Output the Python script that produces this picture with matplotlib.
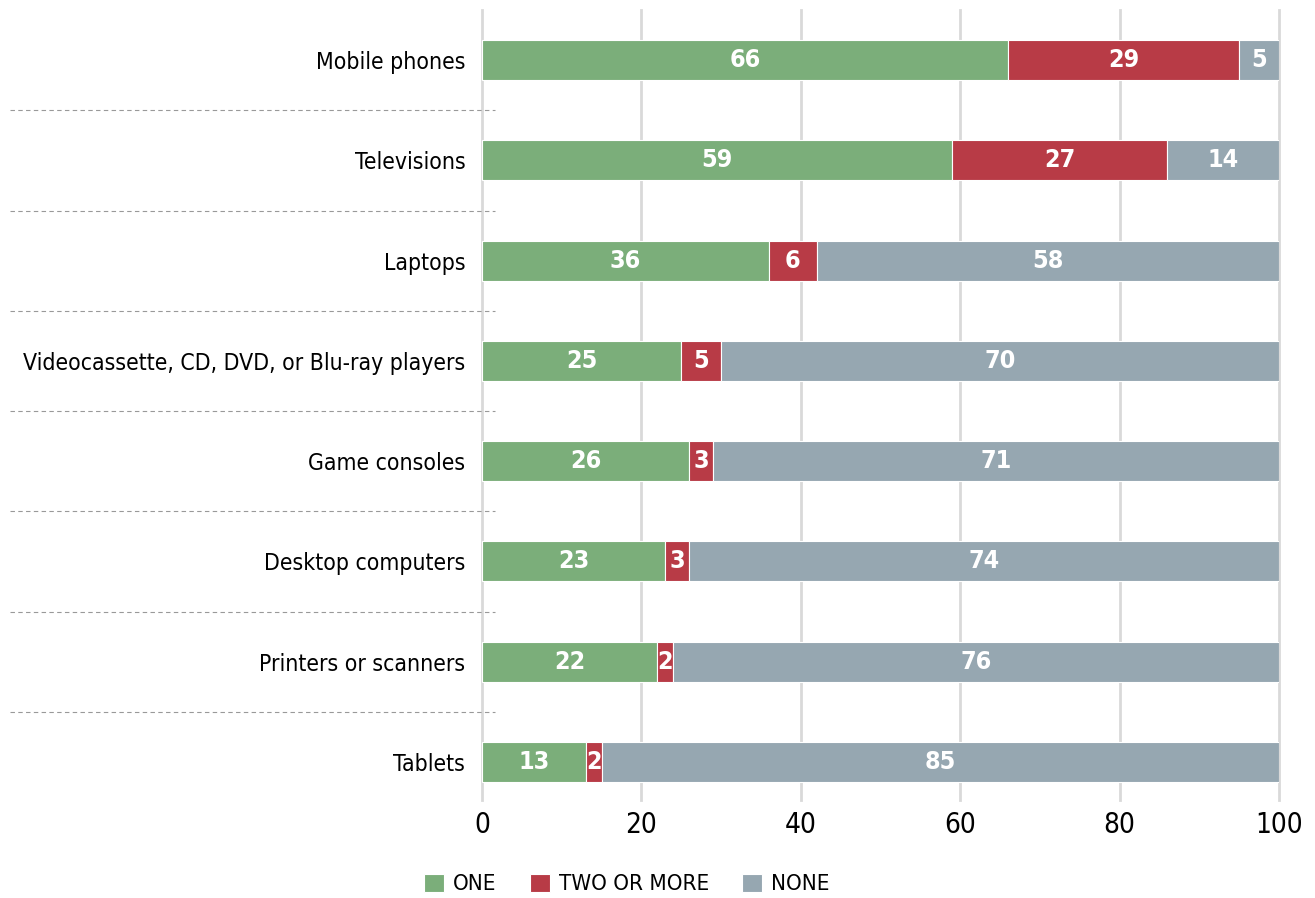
import matplotlib.pyplot as plt
import matplotlib.transforms as mtransforms
import numpy as np

plt.rcParams['font.family'] = ['DejaVu Sans']
plt.rcParams['font.stretch'] = 'condensed'

categories = ["Mobile phones", "Televisions", "Laptops",
              "Videocassette, CD, DVD, or Blu-ray players", "Game consoles",
              "Desktop computers", "Printers or scanners", "Tablets"]
one = [66, 59, 36, 25, 26, 23, 22, 13]
two_or_more = [29, 27, 6, 5, 3, 3, 2, 2]
none = [5, 14, 58, 70, 71, 74, 76, 85]
series_names = ["ONE", "TWO OR MORE", "NONE"]
colors = ["#7BAE7A", "#B83B46", "#96A7B1"]
xticks = [0, 20, 40, 60, 80, 100]

fig = plt.figure(figsize=(13.15, 8.98), dpi=100)
ax = fig.add_axes([482 / 1315, 1 - 800 / 898, (1279 - 482) / 1315, 790 / 898])

y = np.arange(len(categories))
left = np.zeros(len(categories))
for vals, name, col in zip([one, two_or_more, none], series_names, colors):
    vals = np.array(vals)
    ax.barh(y, vals, left=left, height=0.4, color=col, edgecolor="white",
            linewidth=0.8, label=name, zorder=3)
    for yi, l, v in zip(y, left, vals):
        ax.text(l + v / 2, yi, str(v), ha="center", va="center", color="white",
                fontsize=18, fontweight="bold", zorder=4)
    left = left + vals

ax.set_xlim(0, 100)
ax.set_ylim(7.38, -0.5)
ax.set_xticks(xticks)
ax.set_yticks(y)
ax.set_yticklabels(categories, fontsize=16.5)
ax.tick_params(axis="x", labelsize=20, length=0, pad=8)
ax.tick_params(axis="y", length=0, pad=12)
for xt in xticks:
    ax.axvline(xt, color="#d9d9d9", linewidth=2, zorder=0, clip_on=False)
for s in ax.spines.values():
    s.set_visible(False)

# dashed separators in the label area
trans = mtransforms.blended_transform_factory(fig.transFigure, ax.transData)
for k in range(len(categories) - 1):
    ax.plot([10 / 1315, 495 / 1315], [k + 0.5, k + 0.5], transform=trans,
            color="#999999", linestyle=(0, (4, 3)), linewidth=0.8, clip_on=False)

fig.legend(loc="center", bbox_to_anchor=(627 / 1315, 1 - 884 / 898), ncol=3,
           frameon=False, fontsize=16, handlelength=0.9, handleheight=0.9,
           handletextpad=0.4, columnspacing=1.5)

fig.savefig("out.png", dpi=100)
